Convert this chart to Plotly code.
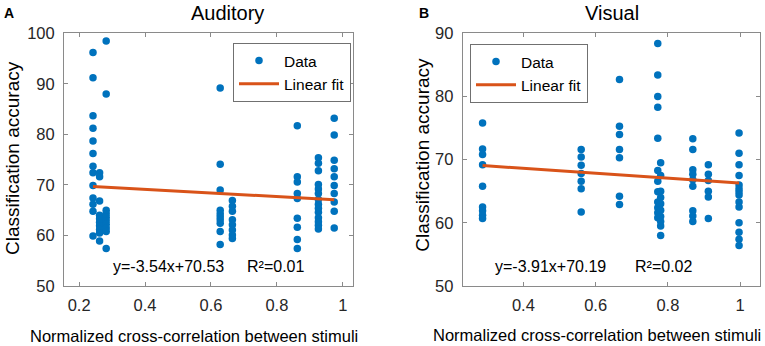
import plotly.graph_objects as go

# ---------------- data ----------------
# Panel A (Auditory): x = normalized cross-correlation, y = classification accuracy
aud_x_levels = [0.242, 0.262, 0.282, 0.628, 0.665, 0.862, 0.926, 0.974]
aud_y_groups = [
    [96.2, 91.2, 83.7, 81.2, 78.7, 76.2, 73.7, 72.4, 69.9, 67.4, 66.2, 64.8, 59.9],
    [72.4, 71.6, 66.8, 64.0, 63.3, 62.6, 61.9, 61.2, 60.5, 58.9],
    [98.5, 88.0, 65.0, 64.3, 63.6, 62.9, 62.2, 61.5, 60.8, 57.4],
    [89.2, 74.1, 69.0, 65.0, 64.3, 63.7, 63.1, 62.4, 60.8, 58.2],
    [66.9, 65.8, 64.8, 63.1, 62.1, 61.1, 60.1, 59.4],
    [81.7, 71.6, 70.6, 68.3, 67.3, 63.4, 61.6, 59.2, 57.4],
    [75.4, 74.3, 72.8, 70.1, 69.2, 68.3, 67.1, 66.2, 65.4, 64.6, 63.5, 62.7, 62.0, 61.3],
    [83.2, 79.9, 74.9, 73.2, 71.6, 69.9, 68.3, 66.6, 64.8, 61.5],
]
aud_slope, aud_intercept, aud_r2 = -3.54, 70.53, 0.01

# Panel B (Visual)
vis_x_levels = [0.287, 0.560, 0.666, 0.772, 0.780, 0.869, 0.912, 0.997]
vis_y_groups = [
    [75.8, 71.7, 70.8, 69.2, 65.8, 62.5, 61.9, 61.2, 60.7],
    [71.6, 70.4, 69.1, 67.8, 66.6, 65.4, 61.7],
    [82.7, 75.3, 74.0, 71.6, 70.3, 64.2, 62.9],
    [88.4, 83.4, 80.0, 78.3, 73.4, 68.3, 66.6, 64.9, 63.3, 62.4, 61.6, 60.8],
    [69.5, 67.5, 65.0, 64.0, 63.0, 62.0, 61.0, 60.2, 59.5, 58.0],
    [73.3, 71.6, 68.4, 67.7, 66.8, 65.8, 61.9, 61.1, 60.2],
    [69.2, 67.7, 66.7, 65.0, 64.1, 60.7],
    [74.2, 71.0, 69.2, 67.5, 66.0, 65.4, 64.9, 64.4, 63.3, 62.5, 60.0, 58.5, 57.4, 56.4],
]
vis_slope, vis_intercept, vis_r2 = -3.91, 70.19, 0.02

aud_xticks = [0.2, 0.4, 0.6, 0.8, 1.0]
aud_xticklabels = ["0.2", "0.4", "0.6", "0.8", "1"]
aud_yticks = [50, 60, 70, 80, 90, 100]
vis_xticks = [0.4, 0.6, 0.8, 1.0]
vis_xticklabels = ["0.4", "0.6", "0.8", "1"]
vis_yticks = [50, 60, 70, 80, 90]

# ---------------- styling ----------------
W, H = 765, 346
BLUE = "#0072BD"
ORANGE = "#D95319"
TXT = "#262626"
AXC = "#8a8a8a"
FONT = "Liberation Sans, Arial, sans-serif"


def px(x):
    return x / W


def py(y):
    return 1 - y / H


def flatten(levels, groups):
    xs, ys = [], []
    for lv, g in zip(levels, groups):
        xs += [lv] * len(g)
        ys += list(g)
    return xs, ys


fig = go.Figure()

panels = [
    dict(levels=aud_x_levels, groups=aud_y_groups, slope=aud_slope, icpt=aud_intercept,
         xa="x", ya="y", legend="legend"),
    dict(levels=vis_x_levels, groups=vis_y_groups, slope=vis_slope, icpt=vis_intercept,
         xa="x2", ya="y2", legend="legend2"),
]

for p in panels:
    xs, ys = flatten(p["levels"], p["groups"])
    fig.add_trace(go.Scatter(
        x=xs, y=ys, mode="markers", name="Data",
        marker=dict(color=BLUE, size=7.5, line=dict(width=0)),
        xaxis=p["xa"], yaxis=p["ya"], legend=p["legend"]))
    fx = [min(xs), max(xs)]
    fy = [p["slope"] * v + p["icpt"] for v in fx]
    fig.add_trace(go.Scatter(
        x=fx, y=fy, mode="lines", name="Linear fit",
        line=dict(color=ORANGE, width=3),
        xaxis=p["xa"], yaxis=p["ya"], legend=p["legend"]))

ydom = [py(286), py(33.3)]
axis_common = dict(
    showgrid=False, zeroline=False, showline=True, mirror="ticks",
    linecolor=AXC, linewidth=1, ticks="inside", ticklen=4, tickcolor=AXC,
    tickfont=dict(family=FONT, size=16.5, color=TXT), automargin=False,
)

legend_common = dict(
    xanchor="left", yanchor="top", bgcolor="white", bordercolor="#707070",
    borderwidth=1, font=dict(family=FONT, size=15.5, color="black"),
    itemwidth=40, tracegroupgap=0,
)

fig.update_layout(
    template="none",
    width=W, height=H,
    margin=dict(l=0, r=0, t=0, b=0, pad=0, autoexpand=False),
    paper_bgcolor="white", plot_bgcolor="white",
    font=dict(family=FONT, color=TXT),
    xaxis=dict(domain=[px(64), px(353)], range=[0.154, 1.031],
               tickvals=aud_xticks, ticktext=aud_xticklabels, anchor="y",
               ticklabelstandoff=4, **axis_common),
    yaxis=dict(domain=ydom, range=[50, 100], tickvals=aud_yticks, anchor="x",
               ticklabelstandoff=5, **axis_common),
    xaxis2=dict(domain=[px(462.7), px(760)], range=[0.232, 1.055],
                tickvals=vis_xticks, ticktext=vis_xticklabels, anchor="y2",
                ticklabelstandoff=4, **axis_common),
    yaxis2=dict(domain=ydom, range=[50, 90], tickvals=vis_yticks, anchor="x2",
                ticklabelstandoff=5, **axis_common),
    legend=dict(x=px(233), y=py(43), **legend_common),
    legend2=dict(x=px(470), y=py(44), **legend_common),
    showlegend=True,
)

ann = []


def add_text(text, x, y, size, bold=False, angle=0, color=TXT):
    ann.append(dict(text=f"<b>{text}</b>" if bold else text,
                    x=px(x), y=py(y), xref="paper", yref="paper",
                    xanchor="center", yanchor="middle", showarrow=False,
                    textangle=angle, font=dict(family=FONT, size=size, color=color)))


# panel letters and titles
add_text("A", 9, 13, 14, bold=True, color="black")
add_text("B", 424, 13, 14, bold=True, color="black")
add_text("Auditory", 227, 13, 20, color="black")
add_text("Visual", 611.7, 13, 20, color="black")
# axis titles
add_text("Classification accuracy", 13, 158, 19, angle=-90, color="black")
add_text("Classification accuracy", 421.7, 155, 19, angle=-90, color="black")
add_text("Normalized cross-correlation between stimuli", 193.8, 336, 16.5, color="black")
add_text("Normalized cross-correlation between stimuli", 596.7, 335, 16.5, color="black")
# fit equations
add_text(f"y={aud_slope:.2f}x+{aud_intercept:.2f}", 168.7, 266.7, 16, color="black")
add_text(f"R²={aud_r2:.2f}", 275.5, 266.7, 16, color="black")
add_text(f"y={vis_slope:.2f}x+{vis_intercept:.2f}", 550, 266.7, 16, color="black")
add_text(f"R²={vis_r2:.2f}", 663.3, 266.7, 16, color="black")

fig.update_layout(annotations=ann)

fig.write_html("out.html",
               config={"displayModeBar": False, "staticPlot": True},
               post_script="document.body.style.margin='0px';document.body.style.overflow='hidden';")
